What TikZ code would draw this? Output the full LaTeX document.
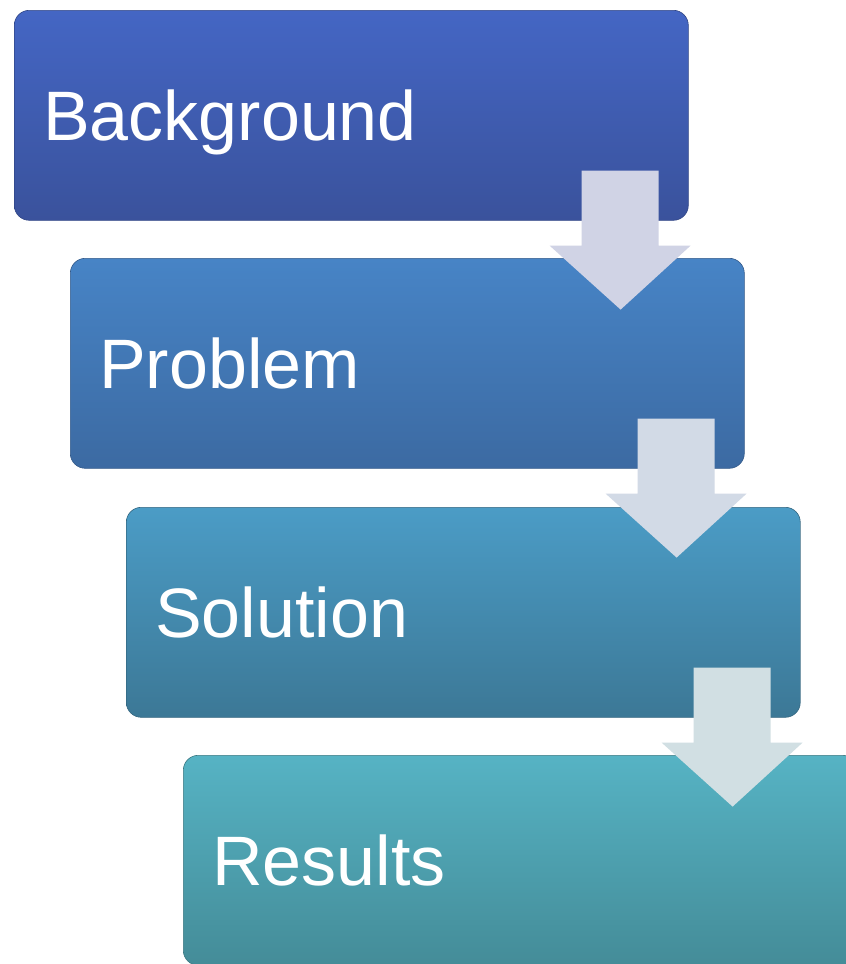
\documentclass[tikz,border=0pt]{standalone}
\usepackage{fontspec}
\setmainfont{Liberation Sans}
\begin{document}
\begin{tikzpicture}[x=1pt,y=-1pt,
  stage/.style={rounded corners=15pt, minimum width=674pt, minimum height=210pt,
    inner xsep=29pt, inner ysep=0pt, text width=616pt, align=left,
    text height=130pt, text depth=80pt, text=white, anchor=north west,
    font=\fontsize{70}{80}\selectfont, draw=#1!85!black, line width=0.6pt},
  downarrow/.style={fill=#1, draw=none}]
\clip (0,0) rectangle (846,964);
\fill[white] (0,0) rectangle (846,964);
\definecolor{cA}{HTML}{4466C4}\definecolor{cAb}{HTML}{3A529C}
\definecolor{cB}{HTML}{4784C6}\definecolor{cBb}{HTML}{3C6AA2}
\definecolor{cC}{HTML}{4B9CC6}\definecolor{cCb}{HTML}{3C7896}
\definecolor{cD}{HTML}{56B3C4}\definecolor{cDb}{HTML}{448C98}
\definecolor{aA}{HTML}{D0D3E5}\definecolor{aB}{HTML}{D2DAE6}\definecolor{aC}{HTML}{D1DFE3}
\node[stage=cAb, top color=cA, bottom color=cAb] (b1) at (14,10) {Background};
\node[stage=cBb, top color=cB, bottom color=cBb] (b2) at (70,258) {Problem};
\node[stage=cCb, top color=cC, bottom color=cCb] (b3) at (126,507) {Solution};
\node[stage=cDb, top color=cD, bottom color=cDb] (b4) at (183,755) {Results};
\foreach \b/\c in {b1/aA, b2/aB, b3/aC}{
  \fill[downarrow=\c] ([shift={(-107,-50)}]\b.south east) -- ([shift={(-30,-50)}]\b.south east)
    -- ([shift={(-30,25)}]\b.south east) -- ([shift={(2,25)}]\b.south east)
    -- ([shift={(-68,89)}]\b.south east) -- ([shift={(-139,25)}]\b.south east)
    -- ([shift={(-107,25)}]\b.south east) -- cycle;
}
\end{tikzpicture}
\end{document}
